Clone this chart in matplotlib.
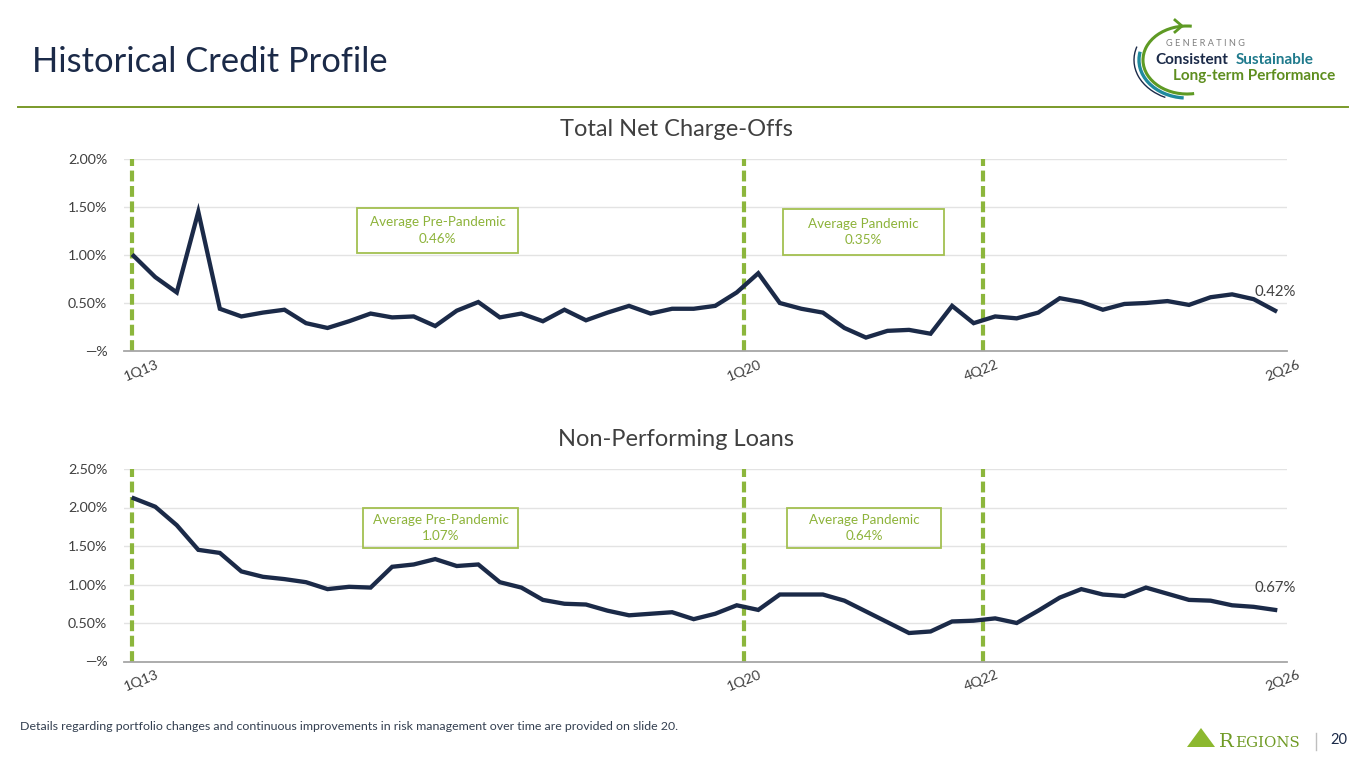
import matplotlib.pyplot as plt
import matplotlib.patches as mpatches
import matplotlib.transforms as mtransforms

plt.rcParams['font.family'] = ['Lato', 'DejaVu Sans']

# quarters 1Q13 .. 2Q26
quarters = [f'{q}Q{y:02d}' for y in range(13, 27) for q in range(1, 5)][:54]

# total net charge-offs (%)
nco = [0.99, 0.77, 0.61, 1.45, 0.44, 0.36, 0.40, 0.43, 0.29, 0.24,
       0.31, 0.39, 0.35, 0.36, 0.26, 0.42, 0.51, 0.35, 0.39, 0.31,
       0.43, 0.32, 0.40, 0.47, 0.39, 0.44, 0.44, 0.47, 0.61, 0.81,
       0.50, 0.44, 0.40, 0.24, 0.14, 0.21, 0.22, 0.18, 0.47, 0.29,
       0.36, 0.34, 0.40, 0.55, 0.51, 0.43, 0.49, 0.50, 0.52, 0.48,
       0.56, 0.59, 0.54, 0.42]

# non-performing loans (%)
npl = [2.12, 2.01, 1.77, 1.45, 1.41, 1.17, 1.10, 1.07, 1.03, 0.94,
       0.97, 0.96, 1.23, 1.26, 1.33, 1.24, 1.26, 1.03, 0.96, 0.80,
       0.75, 0.74, 0.66, 0.60, 0.62, 0.64, 0.55, 0.62, 0.73, 0.67,
       0.87, 0.87, 0.87, 0.79, 0.65, 0.51, 0.37, 0.39, 0.52, 0.53,
       0.56, 0.50, 0.66, 0.83, 0.94, 0.87, 0.85, 0.96, 0.88, 0.80,
       0.79, 0.73, 0.71, 0.67]

# period averages
avg_pre = [0.46, 1.07]
avg_pandemic = [0.35, 0.64]

# period boundaries and labelled quarters
boundaries = ['1Q13', '1Q20', '4Q22']
boundary_shift = [-0.1, 0.35, 0.42]
tick_quarters = ['1Q13', '1Q20', '4Q22', '2Q26']

NAVY = '#1b2a48'
GREEN = '#8cb63c'
BOX_EDGE = '#a3c050'
BOX_TEXT = '#8db33a'
GREY_TXT = '#404040'

W, H = 1365, 768
fig = plt.figure(figsize=(W / 100, H / 100), dpi=100)


def frac_box(x0, y0, x1, y1):
    # pixel rect -> figure fraction [left, bottom, width, height]
    return [x0 / W, 1 - y1 / H, (x1 - x0) / W, (y1 - y0) / H]


def draw_panel(rect, values, ymax, title, title_y, last_label, last_y, boxes, avgs):
    ax = fig.add_axes(frac_box(*rect))
    xs = list(range(len(values)))
    ax.plot(xs, values, color=NAVY, lw=3.1, solid_joinstyle='miter', zorder=3)
    ax.set_xlim(-0.45, 53.55)
    ax.set_ylim(0, ymax)
    yt = [i * 0.5 for i in range(int(ymax / 0.5) + 1)]
    ax.set_yticks(yt)
    ax.set_yticklabels(['—%'] + [f'{v:.2f}%' for v in yt[1:]])
    ax.grid(axis='y', color='#e3e3e3', lw=1.0)
    ax.set_axisbelow(True)
    for s in ['top', 'right', 'left']:
        ax.spines[s].set_visible(False)
    ax.spines['bottom'].set_color('#a6a6a6')
    ax.spines['bottom'].set_linewidth(1.3)
    ax.tick_params(axis='y', length=0, pad=12, labelsize=10.3, labelcolor=GREY_TXT)
    ax.tick_params(axis='x', length=0, pad=5, labelsize=10.3, labelcolor=GREY_TXT)
    ax.set_xticks([quarters.index(q) for q in tick_quarters])
    ax.set_xticklabels(tick_quarters, rotation=22, ha='center')
    off = mtransforms.ScaledTranslation(8 / 100, 0, fig.dpi_scale_trans)
    for lab in ax.get_xticklabels():
        lab.set_transform(lab.get_transform() + off)
    for q, sh in zip(boundaries, boundary_shift):
        ax.axvline(quarters.index(q) + sh, color=GREEN, lw=3, dashes=(2.6, 1.1),
                   ymin=0.0, ymax=1.0, zorder=2)
    ax.text(len(values) - 1, last_y, last_label, ha='center', va='center',
            fontsize=10.8, color=GREY_TXT)
    fig.text(676 / W, 1 - title_y / H, title, ha='center', va='center',
             fontsize=17, color=GREY_TXT)
    for (bx0, by0, bx1, by1), (name, val) in zip(boxes, avgs):
        fig.add_artist(mpatches.Rectangle((bx0 / W, 1 - by1 / H), (bx1 - bx0) / W,
                                          (by1 - by0) / H, transform=fig.transFigure,
                                          fill=False, edgecolor=BOX_EDGE, lw=1.3))
        fig.text((bx0 + bx1) / 2 / W, 1 - ((by0 + by1) / 2) / H,
                 f'{name}\n{val:.2f}%', ha='center', va='center',
                 fontsize=9.7, color=BOX_TEXT, linespacing=1.5)
    return ax


draw_panel((124, 159, 1287, 351), nco, 2.0, 'Total Net Charge-Offs', 129,
           f'{nco[-1]:.2f}%', nco[-1] + 0.19,
           [(357, 208, 518, 253), (783, 209, 944, 255)],
           [('Average Pre-Pandemic', avg_pre[0]), ('Average Pandemic', avg_pandemic[0])])

draw_panel((124, 469, 1287, 661.5), npl, 2.5, 'Non-Performing Loans', 440,
           f'{npl[-1]:.2f}%', npl[-1] + 0.29,
           [(363, 508, 518, 548), (787, 508, 941, 548)],
           [('Average Pre-Pandemic', avg_pre[1]), ('Average Pandemic', avg_pandemic[1])])

# decoration layer in pixel coordinates
deco = fig.add_axes([0, 0, 1, 1])
deco.set_xlim(0, W)
deco.set_ylim(H, 0)
deco.axis('off')

deco.text(32, 62, 'Historical Credit Profile', fontsize=24.8, color=NAVY,
          ha='left', va='center')
deco.plot([18, 1348], [107, 107], color='#7a9a2a', lw=1.4)

# header logo
deco.add_patch(mpatches.Arc((1187, 60), 88, 68, theta1=78, theta2=278,
                            color='#5e9a24', lw=2.2))
deco.plot([1175, 1182, 1175], [20, 26, 32], color='#5e9a24', lw=2.0)
deco.add_patch(mpatches.Arc((1187, 60), 96, 76, theta1=95, theta2=190,
                            color='#1f8a9e', lw=2.4))
deco.add_patch(mpatches.Arc((1187, 60), 106, 82, theta1=120, theta2=195,
                            color=NAVY, lw=1.0))
deco.text(1166, 43, 'G E N E R A T I N G', fontsize=6.6, color='#7f7f7f',
          ha='left', va='center')
deco.text(1155, 60, 'Consistent', fontsize=11, fontweight='bold', color=NAVY,
          ha='left', va='center')
deco.text(1236, 60, 'Sustainable', fontsize=11, fontweight='bold', color='#1f7a8c',
          ha='left', va='center')
deco.text(1173, 76, 'Long-term Performance', fontsize=11, fontweight='bold',
          color='#5e8e1f', ha='left', va='center')

# footnote
deco.text(20, 726, 'Details regarding portfolio changes and continuous improvements in '
          'risk management over time are provided on slide 20.',
          fontsize=8.9, color='#333f50', ha='left', va='center')

# footer logo and page number
deco.add_patch(mpatches.Polygon([(1187, 747), (1201, 728), (1215, 747)],
                                closed=True, color='#8cb82f', lw=0))
deco.text(1219, 742, 'R', fontsize=14, family='DejaVu Serif', color='#6f9a24',
          ha='left', va='center')
deco.text(1235, 743, 'EGIONS', fontsize=10.8, family='DejaVu Serif', color='#6f9a24',
          ha='left', va='center')
deco.plot([1316, 1316], [733, 750], color='#bfbfbf', lw=1.0)
deco.text(1339, 740, '20', fontsize=10.5, color=NAVY, ha='center', va='center')

fig.savefig('out.png', dpi=100, facecolor='white')
